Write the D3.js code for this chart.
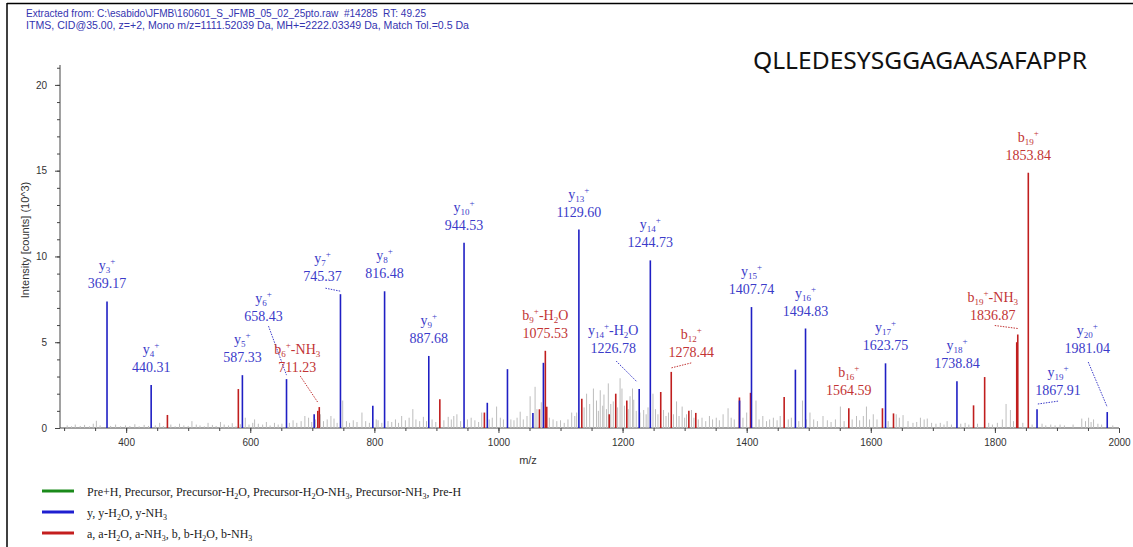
<!DOCTYPE html>
<html>
<head>
<meta charset="utf-8">
<script src="https://cdn.jsdelivr.net/npm/d3@7"></script>
<style>
  body { margin: 0; background: #fff; }
  svg { display: block; }
</style>
</head>
<body>
<svg id="chart" width="1133" height="547"></svg>
<script>
// ---- Data -----------------------------------------------------------------
const headerLines = [
  "Extracted from: C:\\esabido\\JFMB\\160601_S_JFMB_05_02_25pto.raw  #14285  RT: 49.25",
  "ITMS, CID@35.00, z=+2, Mono m/z=1111.52039 Da, MH+=2222.03349 Da, Match Tol.=0.5 Da"
];
const headerWidths = [400, 443];
const peptide = "QLLEDESYSGGAGAASAFAPPR";
const xTickValues = [400, 600, 800, 1000, 1200, 1400, 1600, 1800, 2000];
const yTickValues = [0, 5, 10, 15, 20];

// annotated y-series fragments (blue): ion, index, neutral loss, m/z, intensity (10^3 counts)
const yIons = [
  { ion: "y", n: "3",  loss: "",    mz: 369.17,  intensity: 7.38 },
  { ion: "y", n: "4",  loss: "",    mz: 440.31,  intensity: 2.50 },
  { ion: "y", n: "5",  loss: "",    mz: 587.33,  intensity: 3.08 },
  { ion: "y", n: "6",  loss: "",    mz: 658.43,  intensity: 2.85 },
  { ion: "y", n: "7",  loss: "",    mz: 745.37,  intensity: 7.80 },
  { ion: "y", n: "8",  loss: "",    mz: 816.48,  intensity: 7.97 },
  { ion: "y", n: "9",  loss: "",    mz: 887.68,  intensity: 4.20 },
  { ion: "y", n: "10", loss: "",    mz: 944.53,  intensity: 10.80 },
  { ion: "y", n: "13", loss: "",    mz: 1129.60, intensity: 11.57 },
  { ion: "y", n: "14", loss: "H2O", mz: 1226.78, intensity: 2.27 },
  { ion: "y", n: "14", loss: "",    mz: 1244.73, intensity: 9.77 },
  { ion: "y", n: "15", loss: "",    mz: 1407.74, intensity: 7.05 },
  { ion: "y", n: "16", loss: "",    mz: 1494.83, intensity: 5.80 },
  { ion: "y", n: "17", loss: "",    mz: 1623.75, intensity: 3.77 },
  { ion: "y", n: "18", loss: "",    mz: 1738.84, intensity: 2.73 },
  { ion: "y", n: "19", loss: "",    mz: 1867.91, intensity: 1.10 },
  { ion: "y", n: "20", loss: "",    mz: 1981.04, intensity: 0.93 }
];

// annotated b-series fragments (red)
const bIons = [
  { ion: "b", n: "6",  loss: "NH3", mz: 711.23,  intensity: 1.22 },
  { ion: "b", n: "9",  loss: "H2O", mz: 1075.53, intensity: 4.50 },
  { ion: "b", n: "12", loss: "",    mz: 1278.44, intensity: 3.27 },
  { ion: "b", n: "16", loss: "",    mz: 1564.59, intensity: 1.15 },
  { ion: "b", n: "19", loss: "NH3", mz: 1836.87, intensity: 5.45 },
  { ion: "b", n: "19", loss: "",    mz: 1853.84, intensity: 14.88 }
];

// further matched peaks without annotation: [m/z, intensity]
const yMatched = [
  [703.0, 0.80], [797.5, 1.30], [982.0, 1.47], [1014.5, 3.43],
  [1055.5, 0.87], [1072.4, 3.80], [1388.5, 1.60], [1478.5, 3.40]
];
const bMatched = [
  [466.5, 0.76], [580.8, 2.27], [708.8, 1.00], [905.5, 1.68], [977.3, 0.90],
  [1066.0, 1.09], [1077.8, 1.24], [1134.3, 1.70], [1178.5, 0.80], [1189.0, 2.00],
  [1206.8, 1.60], [1261.5, 2.10], [1306.8, 1.00], [1318.0, 0.88], [1388.3, 1.78],
  [1406.2, 2.05], [1460.4, 1.80], [1618.8, 1.15], [1636.6, 0.85], [1765.6, 1.32],
  [1783.5, 2.97], [1835.2, 5.00]
];

// unassigned peaks (grey): [m/z, intensity]
const unassigned = [
  [305,0.15],[312,0.10],[318,0.20],[326,0.12],[333,0.18],[341,0.10],[347,0.25],[352,0.42],
  [358,0.15],[375,0.12],[383,0.20],[391,0.10],[399,0.15],[406,0.12],[414,0.22],[421,0.10],
  [429,0.18],[436,0.12],[447,0.15],[454,0.30],[460,0.12],[472,0.20],[479,0.10],[486,0.25],
  [493,0.15],[500,0.12],[506,0.40],[513,0.20],[519,0.15],[526,0.10],[532,0.30],[539,0.18],
  [545,0.12],[552,0.35],[558,0.20],[565,0.15],[571,0.28],[577,0.10],[584,0.22],[592,0.60],
  [598,0.20],[604,0.30],[607,0.50],[613,0.25],[620,0.20],[626,0.35],[632,0.15],[639,0.30],
  [645,0.20],[651,0.25],[663,0.30],[669,0.45],[675,0.30],[682,0.40],[688,0.70],[694,0.60],
  [699,0.35],[705,0.50],[713,0.80],[718,0.40],[724,0.50],[730,0.70],[735,0.55],[740,0.30],
  [749,1.60],[755,0.40],[760,0.30],[766,0.45],[772,0.35],[780,0.90],[786,0.40],[792,0.30],
  [803,0.50],[806,0.45],[812,0.30],[822,0.40],[828,0.35],[834,0.50],[839,0.30],[844,0.70],
  [850,0.45],[856,0.60],[862,1.10],[867,0.50],[873,0.40],[879,0.65],[884,0.40],[893,0.50],
  [899,0.35],[912,0.45],[919,0.65],[924,0.50],[928,0.70],[933,0.80],[939,0.40],[950,0.50],
  [956,0.60],[962,0.45],[968,0.35],[973,0.90],[985,0.50],[990,0.60],[997,1.25],[1003,0.60],
  [1008,0.50],[1020,0.50],[1025,0.45],[1030,0.60],[1035,0.95],[1040,0.50],[1046,0.70],[1051,1.85],
  [1059,2.40],[1062,1.10],[1069,1.50],[1082,0.60],[1088,0.50],[1094,0.40],[1100,0.45],[1106,0.30],
  [1112,0.50],[1118,0.90],[1123,0.70],[1126,0.90],[1138,1.20],[1142,2.00],[1147,1.40],[1153,2.30],
  [1158,1.60],[1161,1.00],[1164,2.20],[1168,1.30],[1170,1.95],[1174,1.10],[1177,2.60],[1181,1.40],
  [1185,1.55],[1192,1.20],[1196,2.90],[1199,2.30],[1203,1.30],[1209,1.10],[1212,1.85],[1216,2.30],
  [1218,1.65],[1222,1.00],[1228,0.90],[1234,1.05],[1238,0.80],[1241,1.20],[1249,2.00],[1253,1.10],
  [1257,0.80],[1266,1.05],[1270,0.70],[1274,0.90],[1282,0.80],[1287,1.55],[1291,0.70],[1296,1.25],
  [1300,0.60],[1303,0.80],[1311,1.05],[1315,0.60],[1322,0.50],[1328,0.60],[1334,0.40],[1340,0.70],
  [1345,0.50],[1351,0.60],[1356,0.45],[1362,0.80],[1370,1.15],[1375,0.60],[1380,0.50],[1394,0.60],
  [1400,0.90],[1415,1.60],[1420,0.50],[1426,0.70],[1432,0.40],[1437,0.50],[1443,0.60],[1449,0.45],
  [1454,0.70],[1467,0.50],[1472,0.60],[1484,0.40],[1490,1.60],[1496,0.50],[1502,0.90],[1508,0.50],
  [1514,0.40],[1523,0.70],[1530,0.45],[1536,0.35],[1543,0.50],[1551,1.25],[1557,0.40],[1570,0.50],
  [1577,0.70],[1582,0.45],[1588,0.70],[1593,1.25],[1598,0.50],[1604,0.80],[1610,0.50],[1628,0.40],
  [1641,0.80],[1646,0.60],[1652,0.75],[1660,0.40],[1668,0.30],[1674,0.35],[1680,0.60],[1686,0.50],
  [1691,0.55],[1698,0.30],[1705,0.25],[1712,0.30],[1718,0.20],[1723,0.40],[1730,0.20],[1745,0.25],
  [1752,0.30],[1758,0.20],[1772,0.25],[1790,0.30],[1796,0.20],[1804,0.30],[1812,0.50],[1818,1.40],
  [1825,1.05],[1830,0.40],[1845,0.30],[1860,0.20],[1876,0.25],[1882,0.15],[1890,0.20],[1897,0.15],
  [1905,0.20],[1912,0.15],[1926,0.20],[1940,0.55],[1946,0.40],[1951,0.60],[1955,0.35],[1959,0.50],
  [1966,0.25],[1972,0.20],[1990,0.15]
];

const legendItems = [
  { color: "#1a8a1a", parts: [["Pre+H, Precursor, Precursor-H"],["2","sub"],["O, Precursor-H"],["2","sub"],["O-NH"],["3","sub"],[", Precursor-NH"],["3","sub"],[", Pre-H"]] },
  { color: "#1f1fd0", parts: [["y, y-H"],["2","sub"],["O, y-NH"],["3","sub"]] },
  { color: "#c41e1e", parts: [["a, a-H"],["2","sub"],["O, a-NH"],["3","sub"],[", b, b-H"],["2","sub"],["O, b-NH"],["3","sub"]] }
];

// label placement for crowded annotations (pixels, relative to the peak top)
const labelLayout = {
  "y6":     { dx: -23, dy: -58, lead: [5, 5, 0, -4] },
  "b6NH3":  { dx: -22, dy: -35, lead: [3, 4, -1, -4] },
  "y7":     { dx: -18, dy: -13, lead: [3, 7, 0, -3] },
  "y14H2O": { dx: -26, dy: -36, lead: [3, 8, -2, -7] },
  "b12":    { dx: 20,  dy: -15, lead: [0, 6, 0, -4] },
  "b19NH3": { dx: -25, dy: -15, lead: [2, 6, 0, -6] },
  "y19":    { dx: 21,  dy: -14, lead: [0, 6, 0, -5] },
  "y20":    { dx: -20, dy: -59, lead: [1, 9, 0, -5] }
};

// ---- Scales & layout ------------------------------------------------------
const svg = d3.select("#chart");
const x = d3.scaleLinear().domain([293.4, 2000]).range([60, 1119]);
const y = d3.scaleLinear().domain([0, 21.16]).range([428, 65]);

const BLUE_BAR = "#1f1fc4", RED_BAR = "#c01e1e", GREY_BAR = "#bdbdbd";
const BLUE_TXT = "#3b3bc9", RED_TXT = "#c23434";
const HEAD_TXT = "#3434b0";

// page frame
svg.append("line").attr("x1", 7).attr("x2", 1133).attr("y1", 3.5).attr("y2", 3.5)
  .attr("stroke", "#000").attr("stroke-width", 1.5);
svg.append("line").attr("x1", 7).attr("x2", 7).attr("y1", 3).attr("y2", 547)
  .attr("stroke", "#000").attr("stroke-width", 1.5);

// header
svg.append("g").selectAll("text").data(headerLines).join("text")
  .attr("x", 26).attr("y", (d, i) => 17 + i * 12)
  .attr("font-family", "Liberation Sans, Arial, sans-serif")
  .attr("font-size", 10.5).attr("fill", HEAD_TXT)
  .attr("xml:space", "preserve")
  .attr("textLength", (d, i) => headerWidths[i]).attr("lengthAdjust", "spacingAndGlyphs")
  .text(d => d);

svg.append("text").attr("x", 753).attr("y", 69)
  .attr("font-family", "Noto Sans, Open Sans, sans-serif")
  .attr("font-size", 24).attr("fill", "#111")
  .attr("textLength", 334).attr("lengthAdjust", "spacingAndGlyphs")
  .text(peptide);

// ---- Axes -----------------------------------------------------------------
const axisFont = "Liberation Sans, Arial, sans-serif";
const axisColor = "#444";

const xMinor = d3.range(300, 2001, 50);
svg.append("g").attr("transform", "translate(0,428)")
  .call(d3.axisBottom(x).tickValues(xMinor).tickSize(3).tickFormat(""))
  .call(g => g.select(".domain").remove())
  .call(g => g.selectAll("line").attr("stroke", axisColor));
svg.append("g").attr("transform", "translate(0,428)")
  .call(d3.axisBottom(x).tickValues(xTickValues).tickFormat(d3.format("d"))
    .tickSize(5).tickSizeOuter(0).tickPadding(6))
  .call(g => g.select(".domain").attr("stroke", axisColor).attr("d", `M${x.range()[0]},0H${x.range()[1]}`))
  .call(g => g.selectAll("line").attr("stroke", axisColor))
  .call(g => g.selectAll("text").attr("font-family", axisFont).attr("font-size", 10).attr("fill", "#333"));

const yMinor = d3.range(0, 22, 1);
svg.append("g").attr("transform", "translate(60,0)")
  .call(d3.axisLeft(y).tickValues(yMinor).tickSize(3).tickFormat(""))
  .call(g => g.select(".domain").remove())
  .call(g => g.selectAll("line").attr("stroke", axisColor));
svg.append("g").attr("transform", "translate(60,0)")
  .call(d3.axisLeft(y).tickValues(yTickValues).tickFormat(d3.format("d"))
    .tickSize(5).tickSizeOuter(0).tickPadding(8))
  .call(g => g.select(".domain").attr("stroke", axisColor).attr("d", `M0,${y.range()[0]}V${y.range()[1]}`))
  .call(g => g.selectAll("line").attr("stroke", axisColor))
  .call(g => g.selectAll("text").attr("font-family", axisFont).attr("font-size", 10).attr("fill", "#333"));

svg.append("text").attr("x", 528).attr("y", 464).attr("text-anchor", "middle")
  .attr("font-family", axisFont).attr("font-size", 11).attr("fill", "#333").text("m/z");
svg.append("text").attr("transform", "translate(29,240) rotate(-90)").attr("text-anchor", "middle")
  .attr("font-family", axisFont).attr("font-size", 11).attr("fill", "#333")
  .text("Intensity [counts] (10^3)");

// ---- Peaks ----------------------------------------------------------------
const plot = svg.append("g");
function sticks(data, color, width) {
  plot.append("g").selectAll("line").data(data).join("line")
    .attr("x1", d => x(d[0])).attr("x2", d => x(d[0]))
    .attr("y1", y(0)).attr("y2", d => y(d[1]))
    .attr("stroke", color).attr("stroke-width", width);
}
sticks(unassigned, GREY_BAR, 1);
sticks(bMatched, RED_BAR, 1.6);
sticks(bIons.map(d => [d.mz, d.intensity]), RED_BAR, 1.6);
sticks(yMatched, BLUE_BAR, 1.6);
sticks(yIons.map(d => [d.mz, d.intensity]), BLUE_BAR, 1.6);

// ---- Annotations ----------------------------------------------------------
const labelFont = "Liberation Serif, Times New Roman, serif";
const ann = svg.append("g").attr("font-family", labelFont);

function lossParts(loss) {
  if (loss === "H2O") return [["-H"], ["2", "sub"], ["O"]];
  if (loss === "NH3") return [["-NH"], ["3", "sub"]];
  return [];
}

function annotate(d, color) {
  const key = d.ion + d.n + d.loss;
  const lay = labelLayout[key] || { dx: 0, dy: -13 };
  const px = x(d.mz), py = y(d.intensity);
  const cx = px + lay.dx, base = py + lay.dy;

  const t1 = ann.append("text").attr("x", cx).attr("y", base - 18)
    .attr("text-anchor", "middle").attr("font-size", 14).attr("fill", color);
  t1.append("tspan").text(d.ion);
  t1.append("tspan").attr("font-size", 9).attr("dy", 3).text(d.n);
  t1.append("tspan").attr("font-size", 9).attr("dy", -9).text("+");
  let shift = -6;
  lossParts(d.loss).forEach(([s, kind]) => {
    const target = kind === "sub" ? 3 : 0;
    t1.append("tspan").attr("font-size", kind === "sub" ? 9 : 14)
      .attr("dy", target - shift).text(s);
    shift = target;
  });

  ann.append("text").attr("x", cx).attr("y", base)
    .attr("text-anchor", "middle").attr("font-size", 14).attr("fill", color)
    .text(d.mz.toFixed(2));

  if (lay.lead) {
    const [sx, sy, ex, ey] = lay.lead;
    ann.append("line")
      .attr("x1", cx + sx).attr("y1", base + sy)
      .attr("x2", px + ex).attr("y2", py + ey)
      .attr("stroke", color).attr("stroke-width", 1)
      .attr("stroke-dasharray", "1.5,1.2");
  }
}
yIons.forEach(d => annotate(d, BLUE_TXT));
bIons.forEach(d => annotate(d, RED_TXT));

// ---- Legend ---------------------------------------------------------------
const legend = svg.append("g").attr("font-family", labelFont);
legendItems.forEach((item, i) => {
  const ly = 491 + i * 21;
  legend.append("line").attr("x1", 42).attr("x2", 74).attr("y1", ly).attr("y2", ly)
    .attr("stroke", item.color).attr("stroke-width", 3);
  const t = legend.append("text").attr("x", 87).attr("y", ly + 4.5)
    .attr("font-size", 12).attr("fill", "#222");
  let shift = 0;
  item.parts.forEach(([s, kind]) => {
    const target = kind === "sub" ? 3 : 0;
    t.append("tspan").attr("font-size", kind === "sub" ? 8 : 12)
      .attr("dy", target - shift).text(s);
    shift = target;
  });
});
</script>
</body>
</html>
